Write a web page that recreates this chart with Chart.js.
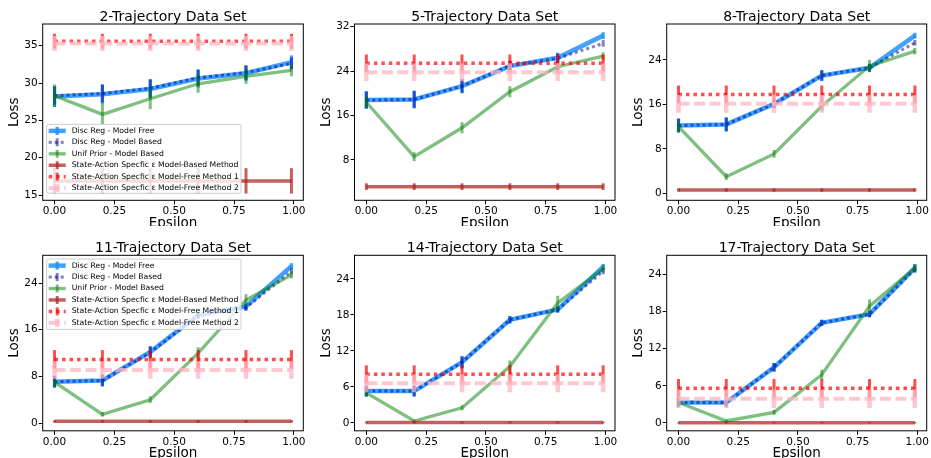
<!DOCTYPE html>
<html>
<head>
<meta charset="utf-8">
<script src="https://cdn.jsdelivr.net/npm/chart.js@4.4.1/dist/chart.umd.min.js"></script>
<style>
  body { margin: 0; background: #fff; }
  #fig { position: relative; width: 931px; height: 458px; overflow: hidden; }
  .cell { position: absolute; overflow: hidden; }
  .cell canvas { position: absolute; }
</style>
</head>
<body>
<div id="fig"></div>
<script>
// x values (epsilon) and tick labels
const epsilons = [0, 0.2, 0.4, 0.6, 0.8, 0.99];
const xTicks = [0, 0.25, 0.5, 0.75, 1.0];

const plotTitles = ['2-Trajectory Data Set', '5-Trajectory Data Set', '8-Trajectory Data Set',
                    '11-Trajectory Data Set', '14-Trajectory Data Set', '17-Trajectory Data Set'];
const seriesNames = ['Disc Reg - Model Free', 'Disc Reg - Model Based', 'Unif Prior - Model Based',
                     'State-Action Specfic \u03b5 Model-Based Method',
                     'State-Action Specfic \u03b5 Model-Free Method 1',
                     'State-Action Specfic \u03b5 Model-Free Method 2'];

// y tick labels and limits, one row per subplot
const yTickSets = [[15, 20, 25, 30, 35], [8, 16, 24, 32], [0, 8, 16, 24],
                   [0, 8, 16, 24], [0, 6, 12, 18, 24], [0, 6, 12, 18, 24]];
const yLimits = [[14.3, 37.9], [0.74, 32.49], [-1.26, 30.48],
                 [-1.32, 28.75], [-1.33, 27.95], [-1.29, 27.14]];

// series values, one row per subplot (2, 5, 8, 11, 14, 17 trajectories)
const discRegFree = [
  [28.2, 28.5, 29.2, 30.6, 31.3, 32.8],
  [18.8, 18.9, 21.3, 24.9, 26.4, 30.4],
  [12.2, 12.4, 16.1, 21.2, 22.6, 28.4],
  [7.1, 7.3, 12.2, 18.5, 20.0, 26.9],
  [5.3, 5.3, 10.1, 17.2, 18.9, 26.0],
  [3.3, 3.3, 9.0, 16.2, 17.6, 25.1]
];
const discRegFreeErr = [
  [1.4, 1.3, 1.3, 1.2, 1.0, 0.9],
  [1.6, 1.6, 1.3, 0.9, 0.9, 0.6],
  [1.3, 1.3, 0.8, 1.0, 0.7, 0.5],
  [1.0, 1.0, 1.0, 0.6, 0.6, 0.5],
  [0.9, 0.9, 1.0, 0.6, 0.5, 0.5],
  [0.7, 0.7, 0.7, 0.5, 0.5, 0.6]
];
const discRegBased = [
  [28.3, 28.6, 29.3, 30.7, 31.4, 32.6],
  [18.8, 18.9, 21.3, 25.0, 26.3, 29.0],
  [12.2, 12.4, 16.1, 21.2, 22.6, 27.1],
  [7.1, 7.3, 12.1, 18.4, 19.8, 26.0],
  [5.3, 5.3, 10.1, 17.2, 18.9, 25.3],
  [3.3, 3.3, 9.0, 16.2, 17.6, 24.9]
];
const discRegBasedErr = [
  [1.2, 1.2, 1.2, 1.1, 1.0, 0.8],
  [1.5, 1.5, 1.2, 0.9, 0.9, 0.6],
  [1.2, 1.2, 0.8, 0.9, 0.7, 0.5],
  [1.0, 1.0, 1.0, 0.6, 0.6, 0.5],
  [0.9, 0.9, 1.0, 0.6, 0.5, 0.5],
  [0.7, 0.7, 0.7, 0.5, 0.5, 0.6]
];
const unifPrior = [
  [28.3, 25.8, 27.9, 29.9, 30.9, 31.7],
  [18.4, 8.6, 13.8, 20.3, 24.8, 26.7],
  [12.0, 3.0, 7.1, 15.7, 22.9, 25.6],
  [7.0, 1.5, 4.0, 12.0, 21.1, 25.4],
  [5.0, 0.3, 2.5, 9.4, 20.0, 25.7],
  [3.3, 0.3, 1.7, 7.8, 18.9, 25.1]
];
const unifPriorErr = [
  [1.5, 1.4, 1.4, 1.2, 1.0, 0.8],
  [1.0, 0.8, 1.0, 1.0, 0.6, 0.7],
  [0.8, 0.6, 0.7, 0.8, 1.1, 0.6],
  [0.7, 0.4, 0.6, 1.0, 1.0, 0.6],
  [0.6, 0.2, 0.4, 1.0, 1.2, 0.6],
  [0.6, 0.2, 0.4, 0.8, 1.1, 0.6]
];
const saModelBased = [
  [16.9, 16.9, 16.9, 16.9, 16.9, 16.9],
  [3.2, 3.2, 3.2, 3.2, 3.2, 3.2],
  [0.6, 0.6, 0.6, 0.6, 0.6, 0.6],
  [0.3, 0.3, 0.3, 0.3, 0.3, 0.3],
  [0.05, 0.05, 0.05, 0.05, 0.05, 0.05],
  [0.0, 0.0, 0.0, 0.0, 0.0, 0.0]
];
const saModelBasedErr = [
  [1.7, 1.7, 1.7, 1.7, 1.7, 1.7],
  [0.6, 0.6, 0.6, 0.6, 0.6, 0.6],
  [0.3, 0.3, 0.3, 0.3, 0.3, 0.3],
  [0.2, 0.2, 0.2, 0.2, 0.2, 0.2],
  [0.15, 0.15, 0.15, 0.15, 0.15, 0.15],
  [0.1, 0.1, 0.1, 0.1, 0.1, 0.1]
];
const saModelFree1 = [
  [35.6, 35.6, 35.6, 35.6, 35.6, 35.6],
  [25.4, 25.4, 25.4, 25.4, 25.4, 25.4],
  [17.8, 17.8, 17.8, 17.8, 17.8, 17.8],
  [10.9, 10.9, 10.9, 10.9, 10.9, 10.9],
  [8.1, 8.1, 8.1, 8.1, 8.1, 8.1],
  [5.6, 5.6, 5.6, 5.6, 5.6, 5.6]
];
const saModelFree1Err = [
  [1.0, 1.0, 1.0, 1.0, 1.0, 1.0],
  [1.6, 1.6, 1.6, 1.6, 1.6, 1.6],
  [1.6, 1.6, 1.6, 1.6, 1.6, 1.6],
  [1.6, 1.6, 1.6, 1.6, 1.6, 1.6],
  [1.5, 1.5, 1.5, 1.5, 1.5, 1.5],
  [1.5, 1.5, 1.5, 1.5, 1.5, 1.5]
];
const saModelFree2 = [
  [35.3, 35.3, 35.3, 35.3, 35.3, 35.3],
  [23.8, 23.8, 23.8, 23.8, 23.8, 23.8],
  [16.1, 16.1, 16.1, 16.1, 16.1, 16.1],
  [9.1, 9.1, 9.1, 9.1, 9.1, 9.1],
  [6.6, 6.6, 6.6, 6.6, 6.6, 6.6],
  [3.9, 3.9, 3.9, 3.9, 3.9, 3.9]
];
const saModelFree2Err = [
  [1.0, 1.0, 1.0, 1.0, 1.0, 1.0],
  [1.6, 1.6, 1.6, 1.6, 1.6, 1.6],
  [1.6, 1.6, 1.6, 1.6, 1.6, 1.6],
  [1.5, 1.5, 1.5, 1.5, 1.5, 1.5],
  [1.5, 1.5, 1.5, 1.5, 1.5, 1.5],
  [1.5, 1.5, 1.5, 1.5, 1.5, 1.5]
];

const seriesValues = [discRegFree, discRegBased, unifPrior, saModelBased, saModelFree1, saModelFree2];
const seriesErrors = [discRegFreeErr, discRegBasedErr, unifPriorErr, saModelBasedErr, saModelFree1Err, saModelFree2Err];

// line styles for the six series
const seriesStyles = [
  { color: 'rgba(30,144,255,0.85)', width: 4.5, dash: [], errWidth: 3.3 },
  { color: 'rgba(0,0,139,0.5)', width: 3, dash: [3, 3], errWidth: 3 },
  { color: 'rgba(0,128,0,0.5)', width: 3.3, dash: [], errWidth: 3 },
  { color: 'rgba(170,30,30,0.7)', width: 3.5, dash: [], errWidth: 3 },
  { color: 'rgba(255,0,0,0.7)', width: 3.5, dash: [3.5, 4], errWidth: 3 },
  { color: 'rgba(255,182,193,0.75)', width: 4, dash: [11, 4.5], errWidth: 4.5 }
];

// layout (page pixels)
const PAGE_W = 931, CANVAS_H = 480;
const cellLeft = [0, 310, 620], cellWidth = [310, 310, 311];
const cellTop = [0, 228], cellHeight = [226, 230];
const areaLeft = [42.7, 354.5, 666.7], areaRight = [303.3, 615, 926.7];
const areaTop = [24, 255.3], areaBottom = [200.3, 430.8];
const Y_AXIS_W = 36.6, X_AXIS_H = 31, TITLE_H = 14;

Chart.defaults.font.family = '"DejaVu Sans", sans-serif';
Chart.defaults.color = '#000';

// vertical error bars, drawn right after each dataset so stacking follows draw order
const errorBars = {
  id: 'errorBars',
  afterDatasetDraw(chart, args) {
    const ds = chart.data.datasets[args.index];
    if (!ds.errors) return;
    const { ctx, scales: { x, y } } = chart;
    ctx.save();
    ctx.strokeStyle = ds.borderColor;
    ctx.lineWidth = ds.errWidth;
    ctx.setLineDash([]);
    ds.data.forEach((p, i) => {
      const px = x.getPixelForValue(p.x);
      ctx.beginPath();
      ctx.moveTo(px, y.getPixelForValue(p.y - ds.errors[i]));
      ctx.lineTo(px, y.getPixelForValue(p.y + ds.errors[i]));
      ctx.stroke();
    });
    ctx.restore();
  }
};

// matplotlib-like box around the axes
const frameBox = {
  id: 'frameBox',
  afterDatasetsDraw(chart) {
    const { ctx, chartArea: a } = chart;
    ctx.save();
    ctx.strokeStyle = '#000';
    ctx.lineWidth = 1;
    ctx.strokeRect(a.left, a.top, a.right - a.left, a.bottom - a.top);
    ctx.restore();
  }
};

// legend drawn inside the plot area
const boxLegend = {
  id: 'boxLegend',
  afterDraw(chart, args, opts) {
    if (!opts.display) return;
    const { ctx, chartArea } = chart;
    const x0 = chartArea.left + opts.left, y0 = chartArea.top + opts.top;
    ctx.save();
    ctx.fillStyle = 'rgba(255,255,255,0.8)';
    ctx.strokeStyle = 'rgba(200,200,200,0.9)';
    ctx.lineWidth = 1;
    ctx.beginPath();
    ctx.roundRect(x0, y0, opts.width, opts.height, 2);
    ctx.fill();
    ctx.stroke();
    ctx.font = '7.7px "DejaVu Sans"';
    ctx.textBaseline = 'middle';
    chart.data.datasets.forEach((ds, i) => {
      const cy = y0 + 6.6 + i * 11.45;
      ctx.strokeStyle = ds.borderColor;
      ctx.lineWidth = ds.borderWidth;
      ctx.setLineDash(ds.borderDash);
      ctx.beginPath();
      ctx.moveTo(x0 + 2, cy);
      ctx.lineTo(x0 + 19, cy);
      ctx.stroke();
      ctx.setLineDash([]);
      ctx.lineWidth = ds.errWidth;
      ctx.beginPath();
      ctx.moveTo(x0 + 10.5, cy - 4);
      ctx.lineTo(x0 + 10.5, cy + 4);
      ctx.stroke();
      ctx.fillStyle = '#000';
      ctx.fillText(ds.label, x0 + 25, cy);
    });
    ctx.restore();
  }
};

const legendBoxes = [
  { display: true, left: 4, top: 100.3, width: 194.3, height: 69 },
  { display: false },
  { display: false },
  { display: true, left: 4, top: 3.7, width: 194.3, height: 70.4 },
  { display: false },
  { display: false }
];

const fig = document.getElementById('fig');

plotTitles.forEach((title, p) => {
  const row = Math.floor(p / 3), col = p % 3;
  const cell = document.createElement('div');
  cell.className = 'cell';
  cell.style.left = cellLeft[col] + 'px';
  cell.style.top = cellTop[row] + 'px';
  cell.style.width = cellWidth[col] + 'px';
  cell.style.height = cellHeight[row] + 'px';
  const canvas = document.createElement('canvas');
  canvas.width = PAGE_W;
  canvas.height = CANVAS_H;
  canvas.style.left = -cellLeft[col] + 'px';
  canvas.style.top = -cellTop[row] + 'px';
  cell.appendChild(canvas);
  fig.appendChild(cell);

  const datasets = seriesNames.map((name, s) => ({
    label: name,
    data: epsilons.map((e, i) => ({ x: e, y: seriesValues[s][p][i] })),
    errors: seriesErrors[s][p],
    borderColor: seriesStyles[s].color,
    borderWidth: seriesStyles[s].width,
    borderDash: seriesStyles[s].dash,
    errWidth: seriesStyles[s].errWidth,
    pointRadius: 0,
    fill: false,
    tension: 0,
    order: seriesNames.length - 1 - s
  }));

  new Chart(canvas, {
    type: 'line',
    data: { datasets },
    plugins: [errorBars, frameBox, boxLegend],
    options: {
      responsive: false,
      animation: false,
      devicePixelRatio: 1,
      layout: {
        padding: {
          left: areaLeft[col] - Y_AXIS_W,
          right: PAGE_W - areaRight[col],
          top: areaTop[row] - TITLE_H,
          bottom: CANVAS_H - areaBottom[row] - X_AXIS_H
        }
      },
      plugins: {
        legend: { display: false },
        tooltip: { enabled: false },
        title: {
          display: true,
          text: title,
          fullSize: false,
          color: '#000',
          font: { size: 14, weight: 'normal', lineHeight: 1 },
          padding: 0
        },
        boxLegend: legendBoxes[p]
      },
      scales: {
        x: {
          type: 'linear',
          min: -0.0495,
          max: 1.0395,
          afterBuildTicks: axis => { axis.ticks = xTicks.map(v => ({ value: v })); },
          afterFit: axis => { axis.height = X_AXIS_H; axis.paddingLeft = 0; axis.paddingRight = 0; },
          ticks: { color: '#000', font: { size: 10.5 }, padding: 1, maxRotation: 0, autoSkip: false,
                   callback: v => v.toFixed(2) },
          grid: { display: true, drawOnChartArea: false, drawTicks: true, tickLength: 4, color: '#000' },
          border: { display: false },
          title: { display: true, text: 'Epsilon', color: '#000', font: { size: 13.5 }, padding: 0 }
        },
        y: {
          type: 'linear',
          min: yLimits[p][0],
          max: yLimits[p][1],
          afterBuildTicks: axis => { axis.ticks = yTickSets[p].map(v => ({ value: v })); },
          afterFit: axis => { axis.width = Y_AXIS_W; axis.paddingTop = 0; axis.paddingBottom = 0; },
          ticks: { color: '#000', font: { size: 10.5 }, padding: 1, autoSkip: false,
                   callback: v => String(v) },
          grid: { display: true, drawOnChartArea: false, drawTicks: true, tickLength: 4, color: '#000' },
          border: { display: false },
          title: { display: true, text: 'Loss', color: '#000', font: { size: 13.5 }, padding: 0 }
        }
      }
    }
  });
});
</script>
</body>
</html>
